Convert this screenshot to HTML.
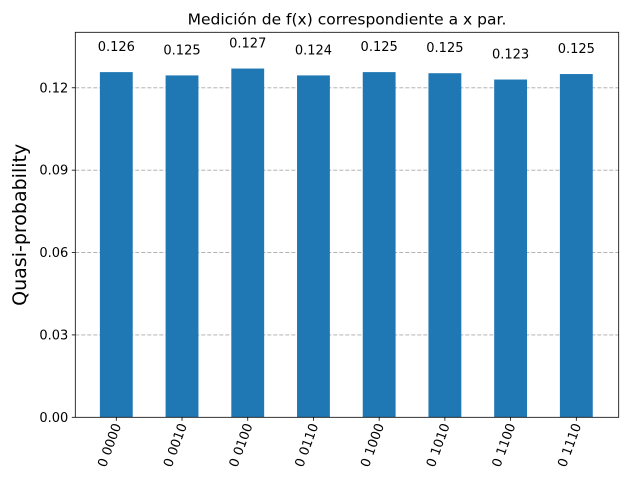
<!DOCTYPE html>
<html><head><meta charset="utf-8"><style>
body{margin:0;background:#fff}
svg{display:block;font-family:"DejaVu Sans","Liberation Sans",sans-serif}
</style></head><body>
<svg id="chart" width="627" height="487"></svg>
<script>
const categories=["0 0000","0 0010","0 0100","0 0110","0 1000","0 1010","0 1100","0 1110"];
const values=[0.1257,0.1245,0.1270,0.1245,0.1257,0.1253,0.1230,0.1250];
const valueLabels=["0.126","0.125","0.127","0.124","0.125","0.125","0.123","0.125"];
const yTicks=[0,0.03,0.06,0.09,0.12];
const yTickLabels=["0.00","0.03","0.06","0.09","0.12"];
const L=75.3,R=618.7,T=32.3,B=417.3;
const xMin=-0.624,xMax=7.645,yMax=0.1402;
const sx=v=>L+(v-xMin)/(xMax-xMin)*(R-L);
const sy=v=>B-v/yMax*(B-T);
const NS="http://www.w3.org/2000/svg",svg=document.getElementById('chart');
function mk(t,a,p){const e=document.createElementNS(NS,t);for(const k in a)e.setAttribute(k,a[k]);(p||svg).appendChild(e);return e;}
yTicks.forEach((v,i)=>{
 const y=sy(v);
 if(v>0){const g=mk('line',{x1:L,x2:R,y1:y,y2:y,stroke:'#a8a8a8','stroke-dasharray':'4,2','stroke-width':0.9});
 
 }
 const tk=mk('line',{x1:L-3.5,x2:L,y1:y,y2:y,stroke:'#000','stroke-width':0.8});
 
 
 const t=mk('text',{x:L-7,y:y+4.5,'text-anchor':'end','font-size':13});t.textContent=yTickLabels[i];
 
 
});
const bw=0.5;
values.forEach((v,i)=>{
 const x0=sx(i-bw/2),x1=sx(i+bw/2);
 const r=mk('rect',{x:x0,y:sy(v),width:x1-x0,height:B-sy(v),fill:'#1f77b4'});
 
 
 const t=mk('text',{x:sx(i),y:sy(v)-21,'text-anchor':'middle','font-size':13});t.textContent=valueLabels[i];
 
 
 const tk=mk('line',{x1:sx(i),x2:sx(i),y1:B,y2:B+3.5,stroke:'#000','stroke-width':0.8});
 
 
 const xl=mk('text',{transform:`translate(${sx(i)+5},${B+8}) rotate(-70)`,'text-anchor':'end','font-size':13});xl.textContent=categories[i];
 
 
});
const fr=mk('rect',{x:L,y:T,width:R-L,height:B-T,fill:'none',stroke:'#000','stroke-width':0.8});


const ti=mk('text',{x:(L+R)/2,y:T-8,'text-anchor':'middle','font-size':15.5});ti.textContent="Medición de f(x) correspondiente a x par.";


const yl=mk('text',{transform:`translate(26,${(T+B)/2}) rotate(-90)`,'text-anchor':'middle','font-size':19});yl.textContent="Quasi-probability";


</script>
</body></html>
